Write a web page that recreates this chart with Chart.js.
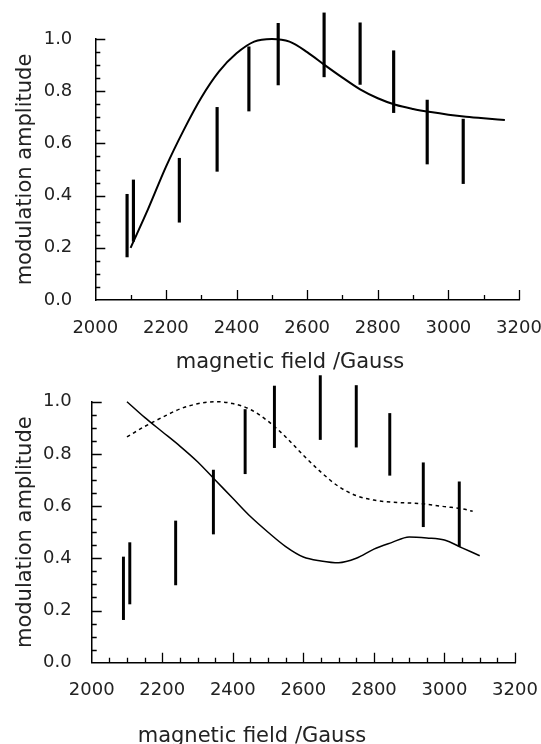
<!DOCTYPE html>
<html>
<head>
<meta charset="utf-8">
<script src="https://cdn.jsdelivr.net/npm/chart.js@4.4.1/dist/chart.umd.min.js"></script>
<style>
	body { margin: 0; background: #fff; }
	canvas { position: absolute; left: 0; }
	#topChart { top: 0; }
	#bottomChart { top: 372px; }
</style>
</head>
<body>
<canvas id="topChart" width="541" height="372"></canvas>
<canvas id="bottomChart" width="541" height="372"></canvas>
<script>
// measured points (vertical error bars, same in both panels)
const fields = [2090, 2108, 2238, 2345, 2435, 2518, 2648, 2750, 2845, 2940, 3042];
const ampLow = [0.165, 0.225, 0.298, 0.493, 0.724, 0.824, 0.855, 0.826, 0.718, 0.521, 0.446];
const ampHigh = [0.405, 0.46, 0.543, 0.738, 0.97, 1.06, 1.10, 1.062, 0.955, 0.766, 0.693];

// upper panel: simulated curve
const fitFieldTop = [2100, 2150, 2200, 2250, 2300, 2350, 2400, 2450, 2500, 2550, 2600, 2650, 2700, 2750, 2800, 2850, 2900, 2950, 3000, 3050, 3100, 3160];
const fitTop = [0.20, 0.35, 0.51, 0.65, 0.775, 0.875, 0.945, 0.99, 1.0, 0.99, 0.95, 0.90, 0.852, 0.807, 0.773, 0.748, 0.732, 0.72, 0.71, 0.702, 0.696, 0.69];

// lower panel: solid and dotted simulations
const fitFieldSolid = [2100, 2150, 2200, 2250, 2300, 2350, 2400, 2450, 2500, 2550, 2600, 2650, 2700, 2750, 2800, 2850, 2900, 2950, 3000, 3050, 3100];
const fitSolid = [1.0, 0.94, 0.885, 0.83, 0.77, 0.70, 0.63, 0.56, 0.50, 0.445, 0.405, 0.39, 0.383, 0.40, 0.435, 0.46, 0.482, 0.478, 0.47, 0.44, 0.41];
const fitFieldDotted = [2100, 2150, 2200, 2250, 2300, 2350, 2400, 2450, 2500, 2550, 2600, 2650, 2700, 2750, 2800, 2850, 2900, 2950, 3000, 3050, 3080];
const fitDotted = [0.865, 0.905, 0.94, 0.972, 0.992, 1.0, 0.993, 0.97, 0.925, 0.865, 0.795, 0.73, 0.675, 0.64, 0.623, 0.615, 0.612, 0.607, 0.598, 0.59, 0.58];

const xTickValues = [2000, 2200, 2400, 2600, 2800, 3000, 3200];
const yTickValues = [0, 0.2, 0.4, 0.6, 0.8, 1.0];

const ink = '#000';
const textInk = '#222';
Chart.defaults.font.family = "'DejaVu Sans', sans-serif";

// ticks in this figure point into the plot, with short minor ones
const inwardTicks = {
	id: 'inwardTicks',
	afterDatasetsDraw(chart, args, opts) {
		const ctx = chart.ctx;
		const area = chart.chartArea;
		const xs = chart.scales.x;
		const ys = chart.scales.y;
		ctx.save();
		ctx.strokeStyle = ink;
		ctx.lineWidth = 1.3;
		ctx.beginPath();
		for (let v = xs.min + opts.xMinor; v <= xs.max + 0.001; v += opts.xMinor) {
			const px = Math.round(xs.getPixelForValue(v)) + 0.5;
			const len = Math.abs(v % 200) < 0.001 ? 10 : 5;
			ctx.moveTo(px, area.bottom);
			ctx.lineTo(px, area.bottom - len);
		}
		for (let i = 1; i <= 20; i++) {
			const v = i * 0.05;
			const py = Math.round(ys.getPixelForValue(v)) + 0.5;
			const len = i % 4 === 0 ? 10 : 5;
			ctx.moveTo(area.left, py);
			ctx.lineTo(area.left + len, py);
		}
		ctx.stroke();
		ctx.restore();
	},
};

// x axis title sits off-centre in the original, drawn here by hand
const fieldTitle = {
	id: 'fieldTitle',
	afterDraw(chart, args, opts) {
		const ctx = chart.ctx;
		ctx.save();
		ctx.font = "21px 'DejaVu Sans', sans-serif";
		ctx.fillStyle = textInk;
		ctx.textAlign = 'center';
		ctx.textBaseline = 'alphabetic';
		ctx.fillText('magnetic field /Gauss', opts.x, opts.y);
		ctx.restore();
	},
};

function errorBars(thickness) {
	return {
		type: 'bar',
		data: fields.map((f, i) => ({ x: f, y: [ampLow[i], ampHigh[i]] })),
		backgroundColor: ink,
		borderWidth: 0,
		barThickness: thickness,
		clip: false,
		order: 1,
	};
}

function curve(xVals, yVals, width, dash) {
	return {
		type: 'line',
		data: xVals.map((f, i) => ({ x: f, y: yVals[i] })),
		borderColor: ink,
		borderWidth: width,
		borderDash: dash,
		pointRadius: 0,
		cubicInterpolationMode: 'monotone',
		fill: false,
		clip: false,
		order: 0,
	};
}

function makeOptions(p) {
	return {
		responsive: false,
		animation: false,
		layout: { padding: { top: p.top, right: p.right, left: 0, bottom: 0 } },
		plugins: {
			legend: { display: false },
			tooltip: { enabled: false },
			inwardTicks: { xMinor: p.xMinor },
			fieldTitle: { x: p.titleX, y: p.titleY },
		},
		scales: {
			x: {
				type: 'linear',
				min: 2000,
				max: 3200,
				offset: false,
				grid: { display: false, drawTicks: false },
				border: { display: true, color: ink, width: 1.5 },
				afterBuildTicks: (s) => { s.ticks = xTickValues.map((v) => ({ value: v })); },
				afterFit: (s) => { s.height = p.xHeight; s.paddingLeft = 0; s.paddingRight = 0; },
				ticks: {
					color: textInk,
					font: { size: 18, lineHeight: 1 },
					padding: p.xPad,
					maxRotation: 0,
					autoSkip: false,
					callback: (v) => String(v),
				},
			},
			y: {
				min: 0,
				max: 1,
				grid: { display: false, drawTicks: false },
				border: { display: true, color: ink, width: 1.5 },
				afterBuildTicks: (s) => { s.ticks = yTickValues.map((v) => ({ value: v })); },
				afterFit: (s) => { s.width = p.yWidth; },
				ticks: {
					color: textInk,
					font: { size: 18, lineHeight: 1 },
					padding: p.yPad,
					callback: (v) => v.toFixed(1),
				},
				title: {
					display: true,
					text: 'modulation amplitude',
					color: textInk,
					font: { size: 21, lineHeight: 1 },
					padding: { top: 15.5, bottom: 0 },
				},
			},
		},
	};
}

new Chart(document.getElementById('topChart'), {
	type: 'bar',
	data: {
		datasets: [errorBars(2.5), curve(fitFieldTop, fitTop, 2, [])],
	},
	options: makeOptions({
		top: 39, right: 22, yWidth: 95.3, xHeight: 72, xPad: 19, yPad: 23,
		xMinor: 100, titleX: 290, titleY: 368,
	}),
	plugins: [inwardTicks, fieldTitle],
});

new Chart(document.getElementById('bottomChart'), {
	type: 'bar',
	data: {
		datasets: [
			errorBars(2.3),
			curve(fitFieldSolid, fitSolid, 1.5, []),
			curve(fitFieldDotted, fitDotted, 1.5, [3.5, 3.5]),
		],
	},
	options: makeOptions({
		top: 29.7, right: 26, yWidth: 91.7, xHeight: 81.3, xPad: 18.3, yPad: 20,
		xMinor: 50, titleX: 252, titleY: 370,
	}),
	plugins: [inwardTicks, fieldTitle],
});
</script>
</body>
</html>
